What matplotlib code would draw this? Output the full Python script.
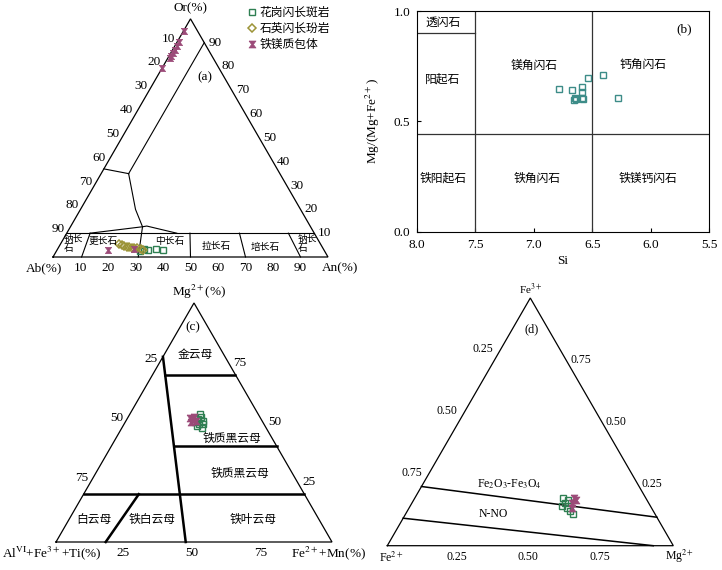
import numpy as np
import matplotlib.pyplot as plt
from matplotlib.lines import Line2D

plt.rcParams['font.family'] = ['Liberation Serif', 'Noto Sans CJK SC']
plt.rcParams['mathtext.fontset'] = 'stix'
plt.rcParams['axes.unicode_minus'] = False

FIG_W, FIG_H = 722, 570
H3 = np.sqrt(3) / 2

GREEN = '#2f7f52'
TEAL = '#3d8c88'
OLIVE = '#9c9438'
PURPLE = '#9b4a78'
HOUR = [(-1, 1), (1, 1), (0.25, 0), (1, -1), (-1, -1), (-0.25, 0), (-1, 1)]

# ---- (a) feldspar, An% / Or%
gd_fsp_an = [30.4, 31.5, 33.2, 35.8, 38.6]
gd_fsp_or = [2.5, 3.4, 2.9, 3.4, 2.9]
qd_fsp_an = [21.3, 22.5, 23.6, 24.6, 25.7, 26.7, 27.5, 28.6, 30.2, 31.4]
qd_fsp_or = [5.3, 5.0, 4.6, 4.3, 4.1, 3.9, 3.9, 3.7, 3.4, 2.9]
me_fsp_an = [0.4, 0.7, 0.8, 0.9, 1.0, 0.8, 0.8, 0.1, 18.7, 27.9]
me_fsp_or = [94.7, 90.2, 88.4, 87.0, 85.6, 84.2, 83.5, 79.3, 2.9, 3.4]

# ---- (b) amphibole
amp_si = [6.78, 6.67, 6.585, 6.585, 6.535, 6.405, 6.28, 6.65, 6.635, 6.59, 6.575, 6.66]
amp_mg = [0.647, 0.641, 0.656, 0.635, 0.695, 0.710, 0.605, 0.605, 0.600, 0.605, 0.600, 0.597]

# ---- (c) biotite, Fe2+ + Mn % / Mg %
gd_bt_fe = [25.5, 25.8, 27.7, 25.4, 27.3, 28.8, 28.9, 26.8, 26.4]
gd_bt_mg = [53.4, 51.3, 50.8, 50.0, 49.2, 49.2, 47.9, 48.4, 52.1]
me_bt_fe = [22.7, 24.0, 25.3, 23.7, 24.0]
me_bt_mg = [51.7, 51.3, 50.8, 50.4, 52.1]

# ---- (d) biotite Fe3+ - Fe2+ - Mg2+, fractions
gd_ox_mg = [0.52, 0.536, 0.53, 0.552, 0.586, 0.568, 0.541]
gd_ox_fe3 = [0.191, 0.171, 0.160, 0.151, 0.128, 0.141, 0.184]
me_ox_mg = [0.557, 0.562, 0.568, 0.569]
me_ox_fe3 = [0.191, 0.171, 0.184, 0.151]

# classification boundaries (a, b) = (right-vertex, top-vertex fractions)
fsp_lines = [
    [(0, 0.1), (0.9, 0.1)],
    [(0.1, 0.9), (0.1, 0.35)],
    [(0, 0.37), (0.1, 0.35)],
    [(0.1, 0.35), (0.2, 0.2), (0.262, 0.127), (0.276, 0.13), (0.40, 0.1)],
    [(0.085, 0.1), (0.262, 0.127)],
    [(0.085, 0.1), (0.104, 0)],
    [(0.262, 0.127), (0.31, 0)],
    [(0.448, 0.1), (0.5, 0)],
    [(0.628, 0.1), (0.70, 0)],
    [(0.806, 0.1), (0.9, 0)],
]
fsp_names = [('钠长\n石', 0.046, 0.055), ('更长石', 0.148, 0.067), ('中长石', 0.392, 0.067),
             ('拉长石', 0.570, 0.046), ('培长石', 0.750, 0.042), ('钠长\n石', 0.897, 0.055)]

bt_split = [(0.0, 0.775), (0.47, 0.0)]
bt_levels = [0.7, 0.4]
bt_full = 0.2
bt_mus = [(0.2, 0.2), (0.18, 0.0)]
bt_names = [('金云母', 0.112, 0.783), ('铁质黑云母', 0.420, 0.433), ('铁质黑云母', 0.525, 0.284),
            ('白云母', 0.092, 0.092), ('铁白云母', 0.301, 0.092), ('铁叶云母', 0.667, 0.092)]

ox_lines = [[(0.0, 0.239), (0.885, 0.115)], [(0.0, 0.111), (0.93, 0.0)]]

amp_vlines = [7.5, 6.5]
amp_hline = 0.444
amp_tremolite = 0.9
amp_names = [('透闪石', 7.78, 0.946), ('阳起石', 7.78, 0.688), ('铁阳起石', 7.78, 0.24),
             ('镁角闪石', 7.0, 0.751), ('铁角闪石', 6.97, 0.24), ('钙角闪石', 6.065, 0.756),
             ('铁镁钙闪石', 6.02, 0.24)]

fig = plt.figure(figsize=(FIG_W / 100, FIG_H / 100), dpi=100)


def tern(a, b):
    a = np.asarray(a, float)
    b = np.asarray(b, float)
    return a + b / 2, b * H3


def tern_axes(box, origin, width):
    x0, y0, x1, y1 = box
    ax = fig.add_axes([x0 / FIG_W, 1 - y1 / FIG_H, (x1 - x0) / FIG_W, (y1 - y0) / FIG_H])
    ax.set_xlim((x0 - origin[0]) / width, (x1 - origin[0]) / width)
    ax.set_ylim((origin[1] - y1) / width, (origin[1] - y0) / width)
    ax.axis('off')
    return ax


def pt(v):
    return v * 0.72


def note(ax, s, a, b, off, fs, ha='center', va='center', **kw):
    x, y = tern(a, b)
    ax.annotate(s, (float(x), float(y)), xytext=(pt(off[0]), pt(off[1])),
                textcoords='offset points', ha=ha, va=va, fontsize=fs, **kw)


def outline(ax, lw):
    x, y = tern([0, 1, 0, 0], [0, 0, 1, 0])
    ax.plot(x, y, color='k', lw=lw, solid_joinstyle='miter')


def poly(ax, pts, lw):
    a, b = zip(*pts)
    x, y = tern(a, b)
    ax.plot(x, y, color='k', lw=lw)


def tick_labels(ax, vals, texts, fs, ob, ol, orr):
    for v, t in zip(vals, texts):
        note(ax, t, v, 0, ob, fs)
        note(ax, t, 0, 1 - v, ol, fs, ha='right')
        note(ax, t, 1 - v, v, orr, fs, ha='left')


# ================= (a) =================
ax_a = tern_axes((0, 0, 360, 285), (53, 257), 275)
outline(ax_a, 0.9)
for ln in fsp_lines:
    poly(ax_a, ln, 0.8)
for s, a, b in fsp_names:
    note(ax_a, s, a, b, (0, 0), 7, multialignment='left', linespacing=0.95)
tv = np.arange(1, 10) / 10
tick_labels(ax_a, tv, [f'{int(round(v * 100))}' for v in tv], 9.5, (0, -11), (-2, 4), (4, 0))
note(ax_a, 'Or(%)', 0, 1, (0, 11), 9.5)
note(ax_a, 'Ab(%)', 0, 0, (-9, -11), 9.5)
note(ax_a, 'An(%)', 1, 0, (12, -11), 9.5)
note(ax_a, '(a)', 0.175, 0.756, (0, 0), 9.5)

x, y = tern(np.array(gd_fsp_an) / 100, np.array(gd_fsp_or) / 100)
ax_a.plot(x, y, 's', ms=4, mfc='none', mec=GREEN, mew=1)
x, y = tern(np.array(qd_fsp_an) / 100, np.array(qd_fsp_or) / 100)
ax_a.plot(x, y, 'D', ms=3.6, mfc='none', mec=OLIVE, mew=1.1)
x, y = tern(np.array(me_fsp_an) / 100, np.array(me_fsp_or) / 100)
ax_a.plot(x, y, ls='none', marker=HOUR, ms=4.5, mfc=PURPLE, mec=PURPLE, mew=0.5)

handles = [Line2D([], [], ls='none', marker='s', ms=4, mfc='none', mec=GREEN, mew=1),
           Line2D([], [], ls='none', marker='D', ms=3.6, mfc='none', mec=OLIVE, mew=1.1),
           Line2D([], [], ls='none', marker=HOUR, ms=5, mfc=PURPLE, mec=PURPLE, mew=0.5)]
fig.legend(handles, ['花岗闪长斑岩', '石英闪长玢岩', '铁镁质包体'], loc='upper left',
           bbox_to_anchor=(248 / FIG_W, 1 - 7 / FIG_H), frameon=False, fontsize=8.5,
           handlelength=0.7, handletextpad=0.3, labelspacing=0.35, borderpad=0, borderaxespad=0)

# ================= (b) =================
ax_b = fig.add_axes([417 / FIG_W, 1 - 232 / FIG_H, 292 / FIG_W, 221 / FIG_H])
ax_b.set_xlim(8.0, 5.5)
ax_b.set_ylim(0, 1)
for v in amp_vlines:
    ax_b.plot([v, v], [0, 1], color='#333333', lw=0.9)
ax_b.plot([8.0, 5.5], [amp_hline, amp_hline], color='#333333', lw=0.9)
ax_b.plot([8.0, 7.5], [amp_tremolite, amp_tremolite], color='#333333', lw=0.9)
for s, xx, yy in amp_names:
    ax_b.text(xx, yy, s, ha='center', va='center', fontsize=8.5)
ax_b.text(5.71, 0.918, '(b)', ha='center', va='center', fontsize=9.5)
ax_b.plot(amp_si, amp_mg, 's', ms=5, mfc='none', mec=TEAL, mew=1)
ax_b.set_xticks([8.0, 7.5, 7.0, 6.5, 6.0, 5.5])
ax_b.set_xticklabels(['8.0', '7.5', '7.0', '6.5', '6.0', '5.5'])
ax_b.set_yticks([0.0, 0.5, 1.0])
ax_b.set_yticklabels(['0.0', '0.5', '1.0'])
ax_b.tick_params(direction='in', length=3, width=0.8, labelsize=9.5, pad=5)
for sp in ax_b.spines.values():
    sp.set_linewidth(0.8)
ax_b.set_xlabel('Si', fontsize=9.5, labelpad=3)
ax_b.set_ylabel('Mg/(Mg+Fe$^{2+}$)', fontsize=9.5, labelpad=8)

# ================= (c) =================
ax_c = tern_axes((0, 285, 360, 570), (56, 542), 276)
outline(ax_c, 0.9)
poly(ax_c, bt_split, 1.8)
(ta, tb), (ba, bb) = bt_split
for lev in bt_levels:
    t = (tb - lev) / (tb - bb)
    poly(ax_c, [(ta + t * (ba - ta), lev), (1 - lev, lev)], 1.8)
poly(ax_c, [(0, bt_full), (1 - bt_full, bt_full)], 1.8)
poly(ax_c, bt_mus, 1.8)
for s, a, b in bt_names:
    note(ax_c, s, a, b, (0, 0), 8.5)
tv = [0.25, 0.5, 0.75]
tick_labels(ax_c, tv, ['25', '50', '75'], 9.5, (-2, -11), (-2, 4), (5, 0))
note(ax_c, 'Mg$^{2+}$(%)', 0, 1, (5, 11), 9.5)
note(ax_c, 'Al$^{\\mathrm{VI}}$+Fe$^{3+}$+Ti(%)', 0, 0, (-4, -11), 9.5)
note(ax_c, 'Fe$^{2+}$+Mn(%)', 1, 0, (-4, -11), 9.5)
note(ax_c, '(c)', 0.047, 0.898, (0, 0), 9.5)
x, y = tern(np.array(gd_bt_fe) / 100, np.array(gd_bt_mg) / 100)
ax_c.plot(x, y, 's', ms=4.5, mfc='none', mec=GREEN, mew=1)
x, y = tern(np.array(me_bt_fe) / 100, np.array(me_bt_mg) / 100)
ax_c.plot(x, y, ls='none', marker=HOUR, ms=5, mfc=PURPLE, mec=PURPLE, mew=0.5)

# ================= (d) =================
ax_d = tern_axes((360, 285, 722, 570), (387.3, 545.7), 286)
outline(ax_d, 0.9)
for ln in ox_lines:
    poly(ax_d, ln, 1.1)
tick_labels(ax_d, tv, ['0.25', '0.50', '0.75'], 8.5, (-2, -11), (-1, 11), (4, 0))
note(ax_d, 'Fe$^{3+}$', 0, 1, (0, 9), 8)
note(ax_d, 'Fe$^{2+}$', 0, 0, (4, -12), 8.5)
note(ax_d, 'Mg$^{2+}$', 1, 0, (6, -11), 8.5)
note(ax_d, '(d)', 0.068, 0.874, (0, 0), 9)
note(ax_d, 'Fe$_2$O$_3$-Fe$_3$O$_4$', 0.304, 0.249, (0, 0), 8.5)
note(ax_d, 'N-NO', 0.307, 0.127, (0, 0), 8.5)
x, y = tern(gd_ox_mg, gd_ox_fe3)
ax_d.plot(x, y, 's', ms=4, mfc='none', mec=GREEN, mew=1)
x, y = tern(me_ox_mg, me_ox_fe3)
ax_d.plot(x, y, ls='none', marker=HOUR, ms=5, mfc=PURPLE, mec=PURPLE, mew=0.5)

fig.savefig('out.png', dpi=100)
